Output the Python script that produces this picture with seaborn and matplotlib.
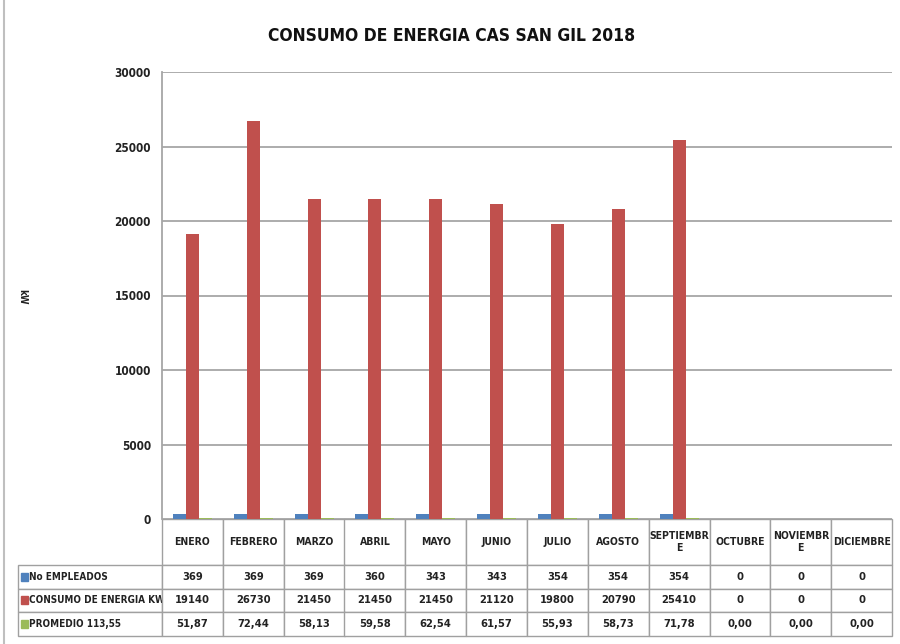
import matplotlib
matplotlib.use("Agg")
import matplotlib.pyplot as plt
import seaborn as sns
import pandas as pd

meses = ["ENERO", "FEBRERO", "MARZO", "ABRIL", "MAYO", "JUNIO", "JULIO",
         "AGOSTO", "SEPTIEMBRE", "OCTUBRE", "NOVIEMBRE", "DICIEMBRE"]
meses_tabla = ["ENERO", "FEBRERO", "MARZO", "ABRIL", "MAYO", "JUNIO", "JULIO",
               "AGOSTO", "SEPTIEMBR\nE", "OCTUBRE", "NOVIEMBR\nE", "DICIEMBRE"]
empleados = [369, 369, 369, 360, 343, 343, 354, 354, 354, 0, 0, 0]
consumo = [19140, 26730, 21450, 21450, 21450, 21120, 19800, 20790, 25410, 0, 0, 0]
promedio = [51.87, 72.44, 58.13, 59.58, 62.54, 61.57, 55.93, 58.73, 71.78, 0.00, 0.00, 0.00]
series = ["No EMPLEADOS", "CONSUMO DE ENERGIA KW", "PROMEDIO 113,55"]
colores = ["#4F81BD", "#C0504D", "#9BBB59"]

sns.set_theme(style="white")
plt.rcParams["font.family"] = ["DejaVu Sans"]
plt.rcParams["font.stretch"] = "condensed"

df = pd.DataFrame({
    "mes": meses * 3,
    "serie": [series[0]] * 12 + [series[1]] * 12 + [series[2]] * 12,
    "valor": empleados + consumo + promedio,
})

W, H = 900, 644
fig = plt.figure(figsize=(9, 6.44), dpi=100)
ax_l, ax_r, ax_t, ax_b = 162, 892, 72, 519
ax = fig.add_axes([ax_l / W, 1 - ax_b / H, (ax_r - ax_l) / W, (ax_b - ax_t) / H])

sns.barplot(data=df, x="mes", y="valor", hue="serie", order=meses,
            hue_order=series, palette=colores, width=0.64, gap=0,
            saturation=1, legend=False, ax=ax, edgecolor="none")

ax.set_ylim(0, 30000)
ax.set_xlim(-0.5, 11.5)
ax.set_yticks(range(0, 30001, 5000))
ax.yaxis.grid(True, color="#A6A6A6", linewidth=1.3)
ax.set_axisbelow(True)
ax.set_xticks([])
ax.set_xlabel("")
ax.set_ylabel("")
for s in ["top", "right", "bottom"]:
    ax.spines[s].set_visible(False)
ax.spines["left"].set_color("#A6A6A6")
ax.spines["left"].set_linewidth(1.3)
ax.tick_params(axis="y", labelsize=8.5, colors="#222222", pad=8, length=0)
for t in ax.get_yticklabels():
    t.set_fontweight("bold")

# data table
cell_text = [[series[0]] + [str(v) for v in empleados],
             [series[1]] + [str(v) for v in consumo],
             [series[2]] + [f"{v:.2f}".replace(".", ",") for v in promedio]]
col_labels = [""] + meses_tabla
tab_l, tab_b = 18, 636
col_w = [(ax_l - tab_l)] + [(ax_r - ax_l) / 12] * 12
tbl = ax.table(cellText=cell_text, colLabels=col_labels, colWidths=col_w,
               cellLoc="center",
               bbox=[(tab_l - ax_l) / (ax_r - ax_l), -(tab_b - ax_b) / (ax_b - ax_t),
                     (ax_r - tab_l) / (ax_r - ax_l), (tab_b - ax_b) / (ax_b - ax_t)])
tbl.auto_set_font_size(False)
tbl.set_fontsize(8)
for (r, c), cell in tbl.get_celld().items():
    cell.set_edgecolor("#A0A0A0")
    cell.set_linewidth(1.0)
    cell.set_height(46 if r == 0 else 23.7)
    cell.get_text().set_fontweight("bold")
    cell.get_text().set_color("#222222")
    if r == 0 and c == 0:
        cell.visible_edges = ""
    if c == 0 and r > 0:
        cell.get_text().set_ha("left")
        cell.get_text().set_fontsize(7.1)
        cell.PAD = 0.075
    if r == 0:
        cell.get_text().set_fontsize(7.5)

row_centers = [577, 600, 624]
for yc, col in zip(row_centers, colores):
    fig.patches.append(plt.Rectangle((21 / W, 1 - (yc + 4) / H), 7 / W, 8 / H,
                                     transform=fig.transFigure, color=col))

fig.text(452 / W, 1 - 36 / H, "CONSUMO DE ENERGIA CAS SAN GIL 2018",
         ha="center", va="center", fontsize=12.5, fontweight="bold", color="#111111")
fig.text(22 / W, 1 - 297 / H, "kW", rotation=270, ha="center", va="center",
         fontsize=7, fontweight="bold", color="#222222")
fig.add_artist(plt.Line2D([4 / W, 4 / W], [0, 1], transform=fig.transFigure,
                          color="#BFBFBF", linewidth=1.5))

fig.savefig("out.png", dpi=100)
